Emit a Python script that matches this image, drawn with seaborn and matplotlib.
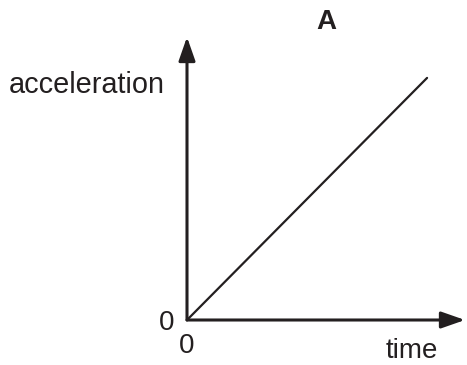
import matplotlib
matplotlib.use("Agg")
import matplotlib.pyplot as plt
import seaborn as sns
import pandas as pd

sns.set_style("white")
plt.rcParams["font.family"] = ["Liberation Sans", "DejaVu Sans"]
plt.rcParams["text.color"] = "#231f20"

# graph A: acceleration rising steadily with time from the origin
time = [0.0, 1.0]
acceleration = [0.0, 1.0]
df = pd.DataFrame({"time": time, "acceleration": acceleration})

W, H = 467, 365
fig = plt.figure(figsize=(W / 100, H / 100), dpi=100)
# axes box spans from the origin to the arrow tips (pixel layout of the reference)
ax = fig.add_axes([187 / W, 45 / H, (465 - 187) / W, (320 - 37) / H])
xmax, ymax = 1.158, 1.169
ax.set_xlim(0, xmax)
ax.set_ylim(0, ymax)

sns.lineplot(data=df, x="time", y="acceleration", ax=ax, color="#231f20", lw=1.6)

arrow = dict(arrowstyle="-|>,head_length=0.4,head_width=0.14", mutation_scale=36,
             lw=2.2, color="#231f20", shrinkA=0, shrinkB=0)
ax.annotate("", xy=(xmax, 0), xytext=(0, 0), arrowprops=arrow, annotation_clip=False)
ax.annotate("", xy=(0, ymax), xytext=(0, 0), arrowprops=arrow, annotation_clip=False)

ax.set_axis_off()

fs = 20
fig.text(165 / W, 1 - 93 / H, "acceleration", fontsize=20.8, ha="right", va="baseline")
fig.text(167 / W, 1 - 330 / H, "0", fontsize=fs, ha="center", va="baseline")
fig.text(187 / W, 1 - 353 / H, "0", fontsize=fs, ha="center", va="baseline")
fig.text(412 / W, 1 - 358 / H, "time", fontsize=fs, ha="center", va="baseline")
fig.text(326 / W, 1 - 29 / H, "A", fontsize=fs, fontweight="bold", ha="center", va="baseline")

fig.savefig("out.png", dpi=100)
